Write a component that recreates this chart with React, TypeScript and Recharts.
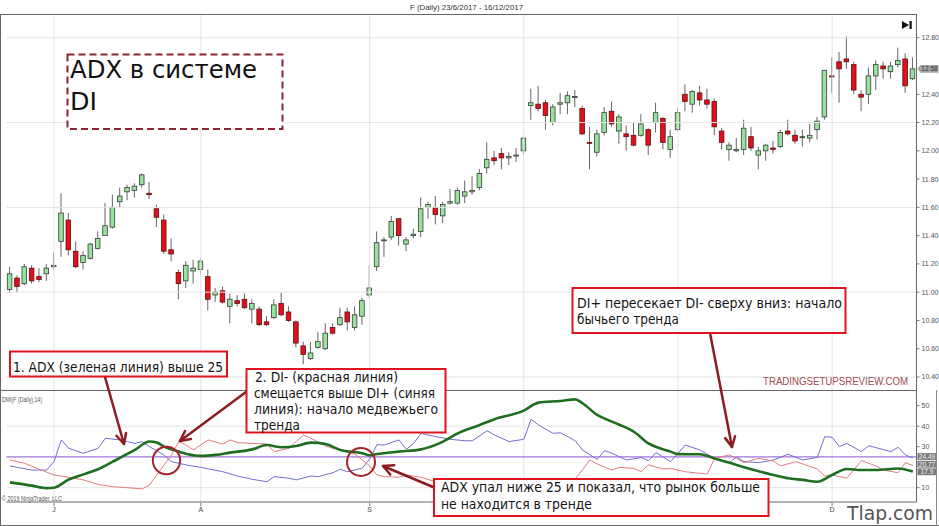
import React from "react";
import { ComposedChart, Bar, Line, XAxis, YAxis, ReferenceLine } from "recharts";

// OHLC for F (Daily), one entry per session
const openP = [
  11.02, 11.1, 11.06, 11.17, 11.11, 11.13, 11.18, 11.36, 11.51, 11.29, 11.21, 11.24, 11.31, 11.4, 11.46, 11.64,
  11.71, 11.72, 11.76, 11.7, 11.59, 11.51, 11.3, 11.14, 11.08, 11.15, 11.16, 11.11, 10.98, 11.01, 10.9, 10.94,
  10.95, 10.88, 10.88, 10.79, 10.82, 10.92, 10.86, 10.79, 10.62, 10.53, 10.61, 10.6, 10.75, 10.77, 10.86, 10.75,
  10.83, 10.98, 11.18, 11.365, 11.39, 11.52, 11.34, 11.4, 11.43, 11.6, 11.6, 11.54, 11.63, 11.63, 11.68, 11.71,
  11.74, 11.88, 11.95, 11.98, 11.95, 11.965, 12.0, 12.32, 12.33, 12.34, 12.2, 12.33, 12.34, 12.38, 12.3, 12.06,
  11.99, 12.13, 12.28, 12.14, 12.12, 12.11, 12.11, 12.15, 12.2, 12.23, 12.01, 12.15, 12.4, 12.33, 12.41, 12.36,
  12.35, 12.14, 12.01, 12.0, 12.01, 12.1, 11.97, 12.0, 12.02, 12.03, 12.14, 12.11, 12.1, 12.09, 12.15, 12.24,
  12.53, 12.63, 12.65, 12.61, 12.4, 12.4, 12.53, 12.6, 12.56, 12.61, 12.65, 12.51,
];
const highP = [
  11.18, 11.12, 11.2, 11.19, 11.17, 11.2, 11.28, 11.7, 11.56, 11.36, 11.29, 11.35, 11.43, 11.63, 11.69, 11.74,
  11.76, 11.77, 11.84, 11.78, 11.62, 11.55, 11.38, 11.16, 11.22, 11.23, 11.24, 11.16, 11.03, 11.04, 10.99, 10.98,
  10.99, 10.95, 10.9, 10.83, 10.95, 11.0, 10.9, 10.8, 10.65, 10.65, 10.72, 10.78, 10.78, 10.89, 10.89, 10.9,
  10.96, 11.19, 11.43, 11.39, 11.54, 11.52, 11.39, 11.45, 11.67, 11.64, 11.68, 11.64, 11.73, 11.74, 11.79, 11.82,
  11.87, 12.06, 12.0, 12.02, 11.99, 12.02, 12.1, 12.44, 12.46, 12.36, 12.33, 12.41, 12.42, 12.43, 12.32, 12.17,
  12.15, 12.31, 12.35, 12.26, 12.18, 12.2, 12.26, 12.16, 12.34, 12.24, 12.15, 12.3, 12.47, 12.43, 12.46, 12.44,
  12.37, 12.16, 12.06, 12.09, 12.22, 12.17, 12.03, 12.05, 12.07, 12.15, 12.22, 12.15, 12.15, 12.19, 12.24, 12.57,
  12.66, 12.7, 12.81, 12.63, 12.43, 12.59, 12.64, 12.63, 12.63, 12.73, 12.69, 12.66,
];
const lowP = [
  11.0, 11.0, 11.05, 11.06, 11.07, 11.08, 11.16, 11.25, 11.26, 11.17, 11.16, 11.23, 11.3, 11.4, 11.45, 11.6,
  11.65, 11.67, 11.74, 11.66, 11.46, 11.27, 11.22, 10.95, 11.03, 11.06, 11.12, 10.87, 10.93, 10.92, 10.78, 10.9,
  10.88, 10.78, 10.76, 10.76, 10.81, 10.83, 10.79, 10.61, 10.49, 10.52, 10.6, 10.59, 10.7, 10.76, 10.73, 10.73,
  10.77, 10.96, 11.15, 11.25, 11.37, 11.33, 11.29, 11.38, 11.39, 11.52, 11.48, 11.49, 11.62, 11.62, 11.63, 11.69,
  11.72, 11.84, 11.9, 11.87, 11.9, 11.92, 11.97, 12.22, 12.28, 12.15, 12.18, 12.26, 12.26, 12.31, 12.11, 11.87,
  11.96, 12.11, 12.17, 12.05, 12.0, 12.03, 12.1, 11.97, 12.13, 12.01, 11.95, 12.14, 12.28, 12.27, 12.32, 12.3,
  12.11, 12.01, 11.93, 11.99, 11.97, 12.0, 11.87, 11.93, 11.98, 12.02, 12.11, 12.05, 12.03, 12.06, 12.08, 12.22,
  12.41, 12.34, 12.58, 12.4, 12.28, 12.33, 12.43, 12.51, 12.51, 12.59, 12.41, 12.5,
];
const closeP = [
  11.13, 11.04, 11.18, 11.08, 11.09, 11.17, 11.19, 11.56, 11.3, 11.18, 11.26, 11.34, 11.38, 11.47, 11.6, 11.68,
  11.74, 11.75, 11.83, 11.69, 11.53, 11.29, 11.27, 11.06, 11.19, 11.17, 11.22, 10.95, 11.0, 10.93, 10.95, 10.92,
  10.89, 10.92, 10.77, 10.77, 10.91, 10.84, 10.8, 10.64, 10.56, 10.57, 10.65, 10.71, 10.71, 10.82, 10.79, 10.84,
  10.94, 11.03, 11.35, 11.37, 11.5, 11.4, 11.37, 11.41, 11.59, 11.62, 11.55, 11.62, 11.64, 11.72, 11.71, 11.72,
  11.84, 11.94, 11.93, 11.95, 11.96, 11.97, 12.09, 12.34, 12.3, 12.25, 12.31, 12.34, 12.39, 12.385, 12.12, 12.055,
  12.12, 12.27, 12.19, 12.24, 12.1, 12.04, 12.19, 12.04, 12.27, 12.06, 12.1, 12.27, 12.35, 12.42, 12.36, 12.33,
  12.17, 12.06, 12.04, 12.01, 12.16, 12.02, 12.0, 12.04, 12.01, 12.13, 12.12, 12.07, 12.1, 12.11, 12.21, 12.57,
  12.525, 12.58, 12.63, 12.43, 12.38, 12.53, 12.61, 12.58, 12.6, 12.64, 12.46, 12.58,
];

// DMI(14) readings: [session, value]
const adxPts: [number, number][] = [
  [0, 12.6], [3, 11], [5, 9.8], [6, 10], [8, 14], [10, 16.5], [12, 19], [14, 22.7], [17, 28.4], [19, 32.5],
  [20, 32], [21, 30], [23, 27.6], [26, 25.5], [28, 26], [30, 27.1], [33, 28.7], [35, 30.8], [37, 29.7],
  [39, 30.3], [41, 32], [43, 31.3], [45, 28.4], [48, 26.8], [49, 25.8], [50, 26.4], [53, 27.6], [56, 28.7],
  [59, 32.5], [61, 36.5], [64, 40.6], [66, 43.4], [70, 47.6], [72, 51.5], [75, 52.3], [77, 53.1], [78, 51.2],
  [80, 45.5], [82, 42.2], [85, 37.3], [87, 31.6], [90, 27.6], [91, 26.4], [94, 26.3], [96, 24.3], [99, 21.1],
  [101, 19], [104, 16.2], [106, 14.6], [108, 13.8], [110, 12.9], [112, 16.2], [114, 19.1], [116, 18.6],
  [118, 18.6], [121, 19.4], [123, 17.9],
];
const diPlusPts: [number, number][] = [
  [0, 20.6], [1, 19.9], [3, 18.6], [5, 18.6], [6, 22.7], [7, 33.3], [8, 29.2], [10, 26.8], [12, 29.2],
  [13, 34.1], [15, 33.3], [16, 32.5], [17, 31.6], [18, 32.5], [19, 30], [21, 25.9], [22, 22.7], [24, 21.1],
  [26, 19.9], [29, 17.8], [31, 15.7], [33, 14.1], [35, 12.9], [36, 15.4], [38, 14.6], [39, 13.8], [41, 15.7],
  [42, 15.4], [44, 17.3], [45, 19], [46, 17.8], [48, 19.5], [49, 24], [50, 31], [51, 30.8], [53, 33.3],
  [54, 28.7], [55, 31.6], [56, 36.5], [58, 34.9], [60, 33.6], [62, 32.9], [63, 32.9], [65, 37.8], [66, 35.7],
  [68, 32.5], [70, 33.6], [71, 43.4], [72, 40.6], [74, 36.5], [75, 36.8], [77, 32.9], [78, 28.4], [80, 23.8],
  [81, 28.1], [82, 26.8], [84, 23.5], [86, 24.7], [87, 23.2], [88, 27.1], [90, 22.7], [92, 30.8], [94, 28.4],
  [96, 24.3], [98, 22.2], [99, 25.1], [100, 22.7], [102, 22.2], [104, 23.5], [106, 26.3], [108, 23.5],
  [110, 24.8], [111, 34.9], [112, 34.6], [113, 30], [114, 31.6], [116, 27.6], [117, 30.5], [118, 29.5],
  [120, 27.6], [121, 29.7], [122, 26], [123, 24.49],
];
const diMinusPts: [number, number][] = [
  [0, 23.5], [2, 21.9], [4, 19], [6, 16.2], [8, 15.1], [10, 13.8], [12, 11.6], [14, 10.5], [16, 10], [18, 9.4],
  [19, 11.3], [20, 16.2], [21, 21.1], [22, 26], [23, 32.5], [24, 30.8], [25, 28.4], [27, 33.3], [29, 31.3],
  [30, 33.3], [31, 32], [33, 31.6], [35, 31.3], [36, 27.6], [38, 29.2], [39, 32.5], [40, 35.7], [41, 34.1],
  [43, 30.3], [44, 29.2], [45, 28.4], [47, 26.4], [48, 23.5], [49, 20.6], [50, 16.2], [51, 15.4], [53, 15.1],
  [54, 16.2], [56, 15.1], [58, 12.9], [61, 11], [64, 9.5], [67, 8.5], [70, 9], [73, 8], [76, 9], [77, 14.1],
  [79, 23.5], [80, 21.6], [82, 18.6], [83, 19.9], [85, 19.4], [86, 17.8], [87, 21.1], [89, 19.1], [90, 19.4],
  [92, 17.8], [94, 17], [95, 16.7], [96, 24.3], [98, 26], [99, 24.3], [100, 22.2], [102, 24.3], [104, 23],
  [105, 20.6], [107, 22.7], [108, 21.6], [110, 19.1], [111, 15.7], [112, 16.2], [114, 14.6], [116, 23.2],
  [118, 20.6], [119, 18.6], [121, 17.3], [122, 22.2], [123, 20.77],
];

// 12.60 and 20 sit under the last-value tags, so they are not drawn
const priceTicks = [10.4, 10.6, 10.8, 11.0, 11.2, 11.4, 11.6, 11.8, 12.0, 12.2, 12.4, 12.8];
const priceGrid = [10.4, 11.0, 11.6, 12.2, 12.8];
const dmiTicks = [10, 30, 40, 50];
const dmiGrid = [10, 40];
const monthIdx = [6, 26, 49, 70, 91, 112];
// O and N are covered by the note box in the source
const monthLbl = ["J", "A", "S", "", "", "D"];

const lastPrice = 12.58;
const lastAdx = 17.9;
const lastDiPlus = 24.49;
const lastDiMinus = 20.77;

const rows: any[] = openP.map((o, i) => ({
  i,
  o,
  h: highP[i],
  l: lowP[i],
  c: closeP[i],
  adx: null,
  dip: null,
  dim: null,
}));
adxPts.forEach(([i, v]) => (rows[i].adx = v));
diPlusPts.forEach(([i, v]) => (rows[i].dip = v));
diMinusPts.forEach(([i, v]) => (rows[i].dim = v));

const AXIS_FONT = "'Liberation Sans', Arial, sans-serif";
const HAND_FONT = "'Comic Sans MS', 'DejaVu Sans', sans-serif";
const GRID = "#e4e4e4";
const DARK_RED = "#8c1c22";
const BOX_RED = "#e0141e";

const Candle = (props: any) => {
  const { x, y, width, height, payload } = props;
  if (!payload || height == null) return null;
  const { o, h, l, c } = payload;
  const k = h === l ? 0 : height / (h - l);
  const yO = y + (h - o) * k;
  const yC = y + (h - c) * k;
  const top = Math.min(yO, yC);
  const bh = Math.max(1, Math.abs(yO - yC));
  const cx = x + width / 2;
  const up = c >= o;
  return (
    <g>
      <line x1={cx} x2={cx} y1={y} y2={y + height} stroke="#666" strokeWidth={1} />
      <rect
        x={x}
        y={top}
        width={width}
        height={bh}
        fill={up ? "#96e49c" : "#e3101c"}
        stroke={up ? "#3a3a3a" : "#5a1010"}
        strokeWidth={0.8}
      />
    </g>
  );
};

const ValueTag = ({ viewBox, text, fill, color, arrow, dy = 0 }: any) => {
  if (!viewBox) return null;
  const x = viewBox.x + viewBox.width + 1;
  const y = viewBox.y + dy;
  const pts = arrow
    ? `${x},${y} ${x + 3},${y - 3.8} ${x + 21},${y - 3.8} ${x + 21},${y + 3.8} ${x + 3},${y + 3.8}`
    : `${x},${y - 3.4} ${x + 19},${y - 3.4} ${x + 19},${y + 3.4} ${x},${y + 3.4}`;
  return (
    <g>
      <polygon points={pts} fill={fill} />
      <text x={x + (arrow ? 12 : 9.5)} y={y + 2.4} textAnchor="middle" fontSize={6.5} fontFamily={AXIS_FONT} fill={color}>
        {text}
      </text>
    </g>
  );
};

const MonthTick = (props: any) => {
  const { x, y, payload } = props;
  const k = monthIdx.indexOf(payload.value);
  if (k < 0 || !monthLbl[k]) return null;
  return (
    <g>
      <line x1={x} x2={x} y1={y - 3} y2={y} stroke="#777" />
      <text x={x} y={y + 6} textAnchor="middle" fontSize={7} fontFamily={AXIS_FONT} fill="#444">
        {monthLbl[k]}
      </text>
    </g>
  );
};

const Arrow = ({ x1, y1, x2, y2 }: any) => {
  const a = Math.atan2(y2 - y1, x2 - x1);
  const L = 10;
  const W = 5;
  const bx = x2 - L * Math.cos(a);
  const by = y2 - L * Math.sin(a);
  const px = -Math.sin(a) * W;
  const py = Math.cos(a) * W;
  return (
    <g stroke={DARK_RED} strokeWidth={2.5} fill="none" strokeLinecap="round" strokeLinejoin="round">
      <line x1={x1} y1={y1} x2={x2} y2={y2} />
      <polyline points={`${bx + px},${by + py} ${x2},${y2} ${bx - px},${by - py}`} />
    </g>
  );
};

const Note = ({ x, y, w, h, lines }: any) => (
  <g>
    <rect x={x} y={y} width={w} height={h} fill="#fff" stroke={BOX_RED} strokeWidth={2} />
    {lines.map((ln: any, k: number) => (
      <text
        key={k}
        x={ln.x}
        y={ln.y}
        fontSize={14.5}
        fontFamily={HAND_FONT}
        fill="#151515"
        textLength={ln.w}
        lengthAdjust="spacingAndGlyphs"
      >
        {ln.t}
      </text>
    ))}
  </g>
);

const App: React.FC = () => {
  return (
    <div style={{ position: "absolute", left: 0, top: 0, width: 939, height: 526, background: "#fff", overflow: "hidden" }}>
      {/* price panel */}
      <div style={{ position: "absolute", left: 0, top: 0 }}>
        <ComposedChart width={939} height={392} data={rows} margin={{ top: 14, right: 0.5, bottom: 2, left: 6.3 }}>
          <XAxis dataKey="i" hide />
          <YAxis
            orientation="right"
            width={22}
            domain={[10.308, 12.968]}
            allowDataOverflow
            ticks={priceTicks}
            interval={0}
            tickFormatter={(v: number) => v.toFixed(2)}
            tick={{ fontSize: 7, fill: "#555", fontFamily: AXIS_FONT }}
            tickSize={3}
            tickLine={{ stroke: "#777" }}
            axisLine={{ stroke: "#666" }}
          />
          {priceGrid.map((v) => (
            <ReferenceLine key={"pg" + v} y={v} stroke={GRID} />
          ))}
          {monthIdx.map((m) => (
            <ReferenceLine key={"pv" + m} x={m} stroke={GRID} />
          ))}
          <Bar
            dataKey={(d: any) => [d.l, d.h]}
            barSize={4.6}
            shape={(p: any) => <Candle {...p} />}
            isAnimationActive={false}
          />
          <ReferenceLine
            y={lastPrice}
            stroke="none"
            label={(p: any) => <ValueTag {...p} text={lastPrice.toFixed(2)} fill="#a3a3a3" color="#333" arrow />}
          />
        </ComposedChart>
      </div>

      {/* DMI panel */}
      <div style={{ position: "absolute", left: 0, top: 0 }}>
        <ComposedChart width={939} height={526} data={rows} margin={{ top: 390, right: 0.5, bottom: 10, left: 6.3 }}>
          <XAxis
            dataKey="i"
            scale="band"
            height={14}
            interval={0}
            tickLine={false}
            tickSize={3}
            tickMargin={1}
            tick={(p: any) => <MonthTick {...p} />}
            axisLine={{ stroke: "#666" }}
          />
          <YAxis
            orientation="right"
            width={22}
            domain={[3.02, 57.66]}
            allowDataOverflow
            ticks={dmiTicks}
            interval={0}
            tick={{ fontSize: 7, fill: "#555", fontFamily: AXIS_FONT }}
            tickSize={3}
            tickLine={{ stroke: "#777" }}
            axisLine={{ stroke: "#666" }}
          />
          {dmiGrid.map((v) => (
            <ReferenceLine key={"dg" + v} y={v} stroke={GRID} />
          ))}
          {monthIdx.map((m) => (
            <ReferenceLine key={"dv" + m} x={m} stroke={GRID} />
          ))}
          <ReferenceLine y={25} stroke="#a574d8" strokeWidth={1.2} />
          <Line dataKey="dip" type="linear" stroke="#6f6fd2" strokeWidth={1} dot={false} connectNulls isAnimationActive={false} />
          <Line dataKey="dim" type="linear" stroke="#e27c7c" strokeWidth={1} dot={false} connectNulls isAnimationActive={false} />
          <Line dataKey="adx" type="monotone" stroke="#1f6e1f" strokeWidth={2.6} dot={false} connectNulls isAnimationActive={false} />
          <ReferenceLine
            y={lastDiPlus}
            stroke="none"
            label={(p: any) => <ValueTag {...p} dy={-1.5} text={lastDiPlus.toFixed(2)} fill="#7a7a7a" color="#f2f2f2" />}
          />
          <ReferenceLine
            y={lastDiMinus}
            stroke="none"
            label={(p: any) => <ValueTag {...p} dy={-1.4} text={lastDiMinus.toFixed(2)} fill="#7a7a7a" color="#f2f2f2" />}
          />
          <ReferenceLine
            y={lastAdx}
            stroke="none"
            label={(p: any) => <ValueTag {...p} dy={0.3} text={String(lastAdx)} fill="#7a7a7a" color="#f2f2f2" />}
          />
        </ComposedChart>
      </div>

      {/* frame, captions and annotations */}
      <svg width={939} height={526} style={{ position: "absolute", left: 0, top: 0 }}>
        <line x1={0} x2={916.5} y1={14.5} y2={14.5} stroke="#666" />
        <line x1={0.5} x2={0.5} y1={14} y2={526} stroke="#666" />
        <line x1={0} x2={916.5} y1={390.5} y2={390.5} stroke="#666" />
        <line x1={0} x2={939} y1={525.5} y2={525.5} stroke="#666" />
        <line x1={936.5} x2={936.5} y1={390} y2={526} stroke="#888" />

        <text x={410} y={9.5} fontSize={8} fontFamily={AXIS_FONT} fill="#333" textLength={113} lengthAdjust="spacingAndGlyphs">
          F (Daily)  23/6/2017 - 16/12/2017
        </text>
        <polygon points="902,21 902,29 909,25" fill="#111" />
        <rect x={909.5} y={21} width={2.2} height={8} fill="#111" />

        <text x={2} y={402} fontSize={6.5} fontFamily={AXIS_FONT} fill="#555" textLength={40} lengthAdjust="spacingAndGlyphs">
          DMI(F (Daily),14)
        </text>
        <text x={2} y={501} fontSize={6.5} fontFamily={AXIS_FONT} fill="#555" textLength={60} lengthAdjust="spacingAndGlyphs">
          © 2019 NinjaTrader, LLC
        </text>

        <text x={763} y={385} fontSize={10.5} fontFamily={AXIS_FONT} fill="#a14a52" textLength={145} lengthAdjust="spacingAndGlyphs">
          TRADINGSETUPSREVIEW.COM
        </text>
        <text x={847} y={519.5} fontSize={20} fontFamily={HAND_FONT} fill="#555" textLength={86} lengthAdjust="spacingAndGlyphs">
          Tlap.com
        </text>

        {/* title box */}
        <rect x={67.5} y={54.5} width={215} height={74.5} fill="#fff" stroke="#8b2535" strokeWidth={2} strokeDasharray="7 4" />
        <text x={70} y={78} fontSize={24} fontFamily={HAND_FONT} fill="#111" textLength={187} lengthAdjust="spacingAndGlyphs">
          ADX в системе
        </text>
        <text x={70} y={110} fontSize={24} fontFamily={HAND_FONT} fill="#111" textLength={27} lengthAdjust="spacingAndGlyphs">
          DI
        </text>

        <circle cx={166.5} cy={460.5} r={13.7} fill="none" stroke="#a0252a" strokeWidth={2} />
        <circle cx={361} cy={462} r={14} fill="none" stroke="#a0252a" strokeWidth={2} />

        <Arrow x1={105} y1={377} x2={124} y2={444} />
        <Arrow x1={246} y1={392} x2={180} y2={441} />
        <Arrow x1={710} y1={333} x2={732} y2={447} />
        <Arrow x1={433} y1={487} x2={383} y2={466} />

        <Note
          x={10}
          y={351.5}
          w={217}
          h={25}
          lines={[{ t: "1. ADX (зеленая линия) выше 25", x: 13, y: 372, w: 210 }]}
        />
        <Note
          x={246.5}
          y={369}
          w={199}
          h={63.5}
          lines={[
            { t: "2. DI- (красная линия)", x: 255, y: 382, w: 143 },
            { t: "смещается выше DI+ (синяя", x: 254, y: 398, w: 181 },
            { t: "линия): начало медвежьего", x: 254, y: 414, w: 184 },
            { t: "тренда", x: 254, y: 430, w: 46 },
          ]}
        />
        <Note
          x={572.5}
          y={288}
          w={273}
          h={45}
          lines={[
            { t: "DI+ пересекает DI- сверху вниз: начало", x: 577, y: 308, w: 265 },
            { t: "бычьего тренда", x: 577, y: 324, w: 102 },
          ]}
        />
        <Note
          x={434}
          y={479}
          w={334.5}
          h={37}
          lines={[
            { t: "ADX упал ниже 25 и показал, что рынок больше", x: 441, y: 492, w: 319 },
            { t: "не находится в тренде", x: 441, y: 509, w: 151 },
          ]}
        />
      </svg>
    </div>
  );
};

export default App;
